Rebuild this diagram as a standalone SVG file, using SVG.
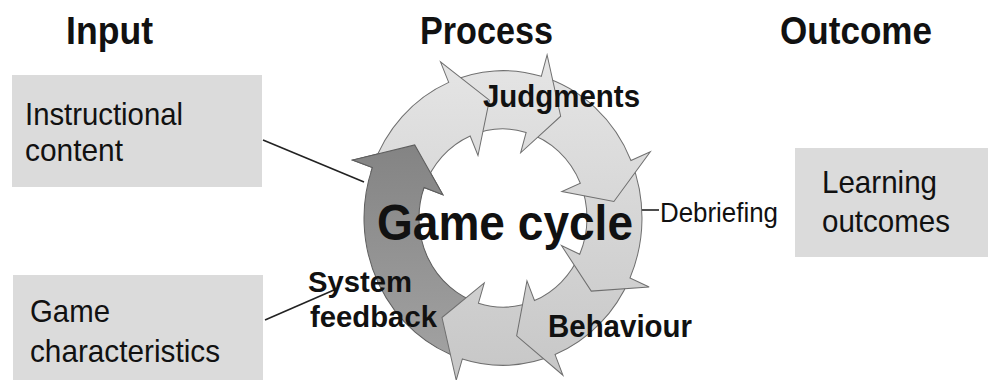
<svg xmlns="http://www.w3.org/2000/svg" width="991" height="380" viewBox="0 0 991 380">
<style>
text{font-family:"Liberation Sans",Arial,sans-serif;fill:#111}
.title{font-size:38px;font-weight:bold}
.box{fill:#dbdbdb}
.lbl{font-size:32px}
.b{font-weight:bold}
.light{fill:url(#gl);stroke:#6f6f6f;stroke-width:1;stroke-linejoin:miter}
.dark{fill:url(#gd);stroke:#5e5e5e;stroke-width:1}
.conn{stroke:#222;stroke-width:1.6;fill:none}
</style>
<defs>
<linearGradient id="gl" gradientUnits="userSpaceOnUse" x1="0" y1="-160" x2="0" y2="160">
<stop offset="0" stop-color="#e6e6e6"/><stop offset="1" stop-color="#c6c6c6"/>
</linearGradient>
<linearGradient id="gd" gradientUnits="userSpaceOnUse" x1="0" y1="-80" x2="0" y2="150">
<stop offset="0" stop-color="#828282"/><stop offset="1" stop-color="#a4a4a4"/>
</linearGradient>
</defs>
<rect width="991" height="380" fill="#fff"/>

<g id="titles">
<text class="title" x="66" y="44" textLength="87" lengthAdjust="spacingAndGlyphs">Input</text>
<text class="title" x="420" y="44" textLength="133" lengthAdjust="spacingAndGlyphs">Process</text>
<text class="title" x="780" y="44" textLength="152" lengthAdjust="spacingAndGlyphs">Outcome</text>
</g>

<g id="connectors">
<line class="conn" x1="263" y1="140" x2="364" y2="182"/>
<line class="conn" x1="265" y1="320" x2="334" y2="290"/>
<line class="conn" x1="640" y1="210" x2="659" y2="210" stroke-width="1.3"/>
</g>

<g id="instructional-content">
<rect class="box" x="12" y="75" width="250" height="112"/>
<text class="lbl" x="25" y="125" textLength="158" lengthAdjust="spacingAndGlyphs">Instructional</text>
<text class="lbl" x="25" y="161" textLength="98" lengthAdjust="spacingAndGlyphs">content</text>
</g>

<g id="game-characteristics">
<rect class="box" x="13" y="275" width="250" height="110"/>
<text class="lbl" x="30" y="322" textLength="80" lengthAdjust="spacingAndGlyphs">Game</text>
<text class="lbl" x="30" y="362" textLength="190" lengthAdjust="spacingAndGlyphs">characteristics</text>
</g>

<g id="learning-outcomes">
<rect class="box" x="795" y="148" width="193" height="109"/>
<text class="lbl" x="822" y="193" textLength="115" lengthAdjust="spacingAndGlyphs">Learning</text>
<text class="lbl" x="822" y="232" textLength="128" lengthAdjust="spacingAndGlyphs">outcomes</text>
</g>

<g id="game-cycle">
<g transform="translate(503,218) scale(1,1.06)">
<path class="dark" d="M -40.64 132.93 A139 139 0 0 1 -130.62 -47.54 L -150.35 -54.72 L -88.26 -68.96 L -60.14 -21.89 L -78.93 -28.73 A84 84 0 0 0 -24.56 80.33 Z"/>
<path class="light" d="M 52.07 128.88 A139 139 0 0 1 -40.64 132.93 L -46.78 153.01 L -61.00 93.93 L -18.71 61.20 L -24.56 80.33 A84 84 0 0 0 31.47 77.88 Z"/>
<path class="light" d="M 126.98 56.53 A139 139 0 0 1 52.07 128.88 L 59.94 148.35 L 13.65 111.16 L 23.97 59.34 L 31.47 77.88 A84 84 0 0 0 76.73 34.16 Z"/>
<path class="light" d="M 127.95 -54.31 A139 139 0 0 1 126.98 56.53 L 146.16 65.07 L 88.26 68.96 L 58.46 26.03 L 76.73 34.16 A84 84 0 0 0 77.32 -32.82 Z"/>
<path class="light" d="M 38.31 -133.62 A139 139 0 0 1 127.95 -54.31 L 147.28 -62.51 L 110.91 -15.59 L 58.91 -25.00 L 77.32 -32.82 A84 84 0 0 0 23.15 -80.75 Z"/>
<path class="light" d="M -54.31 -127.95 A139 139 0 0 1 38.31 -133.62 L 44.10 -153.81 L 57.68 -96.01 L 17.64 -61.52 L 23.15 -80.75 A84 84 0 0 0 -32.82 -77.32 Z"/>
<path class="light" d="M -130.62 -47.54 A139 139 0 0 1 -54.31 -127.95 L -62.51 -147.28 L -13.65 -111.16 L -25.00 -58.91 L -32.82 -77.32 A84 84 0 0 0 -78.93 -28.73 Z"/>
<path fill="url(#gd)" stroke="none" d="M -132.20 -42.95 A139 139 0 0 1 -130.62 -47.54 L -150.35 -54.72 L -88.26 -68.96 L -60.14 -21.89 L -78.93 -28.73 A84 84 0 0 0 -79.89 -25.96 Z"/>
<path fill="none" stroke="#5e5e5e" stroke-width="1" d="M -132.20 -42.95 A139 139 0 0 1 -130.62 -47.54 L -150.35 -54.72 L -88.26 -68.96 L -60.14 -21.89 L -78.93 -28.73 A84 84 0 0 0 -79.89 -25.96"/>
</g>
<text class="b" x="377" y="240" font-size="50" textLength="256" lengthAdjust="spacingAndGlyphs">Game cycle</text>
</g>

<g id="judgments">
<text class="b" x="483" y="107" font-size="31" textLength="157" lengthAdjust="spacingAndGlyphs">Judgments</text>
</g>
<g id="debriefing">
<text x="660" y="222" font-size="27" textLength="118" lengthAdjust="spacingAndGlyphs">Debriefing</text>
</g>
<g id="behaviour">
<text class="b" x="548" y="337" font-size="31" textLength="144" lengthAdjust="spacingAndGlyphs">Behaviour</text>
</g>
<g id="system-feedback">
<text class="b" x="308" y="292" font-size="30" textLength="104" lengthAdjust="spacingAndGlyphs">System</text>
<text class="b" x="310" y="327" font-size="30" textLength="127" lengthAdjust="spacingAndGlyphs">feedback</text>
</g>
</svg>
